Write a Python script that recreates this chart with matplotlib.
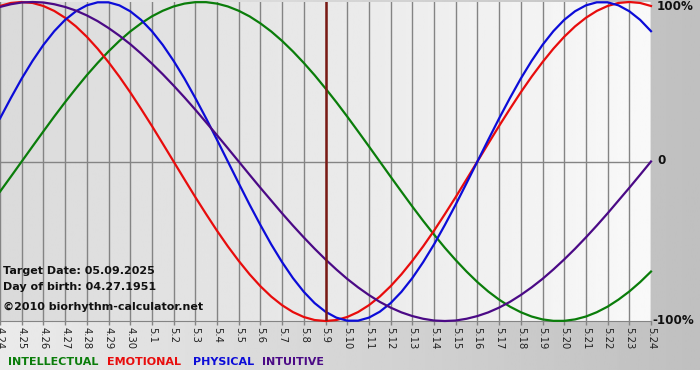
import numpy as np
import matplotlib
matplotlib.use('Agg')
import matplotlib.pyplot as plt

# days shown on the x axis (month.day)
days = ['4.24', '4.25', '4.26', '4.27', '4.28', '4.29', '4.30',
        '5.1', '5.2', '5.3', '5.4', '5.5', '5.6', '5.7', '5.8', '5.9',
        '5.10', '5.11', '5.12', '5.13', '5.14', '5.15', '5.16', '5.17',
        '5.18', '5.19', '5.20', '5.21', '5.22', '5.23', '5.24']
target_day = '5.9'

# curve values read every half day (start of 4.24 .. 5.24), -1 .. 1
intellectual = [-0.189, -0.095, 0.000, 0.095, 0.189, 0.282, 0.372, 0.458,
                0.541, 0.618, 0.690, 0.756, 0.815, 0.866, 0.910, 0.945,
                0.972, 0.990, 0.999, 0.999, 0.990, 0.972, 0.945, 0.910,
                0.866, 0.815, 0.756, 0.690, 0.618, 0.541, 0.458, 0.372,
                0.282, 0.189, 0.095, 0.000, -0.095, -0.189, -0.282, -0.372,
                -0.458, -0.541, -0.618, -0.690, -0.756, -0.815, -0.866,
                -0.910, -0.945, -0.972, -0.990, -0.999, -0.999, -0.990,
                -0.972, -0.945, -0.910, -0.866, -0.815, -0.756, -0.690]
emotional = [0.975, 0.994, 1.000, 0.994, 0.975, 0.944, 0.901, 0.847, 0.782,
             0.707, 0.623, 0.532, 0.434, 0.330, 0.223, 0.112, 0.000, -0.112,
             -0.223, -0.330, -0.434, -0.532, -0.623, -0.707, -0.782, -0.847,
             -0.901, -0.944, -0.975, -0.994, -1.000, -0.994, -0.975, -0.944,
             -0.901, -0.847, -0.782, -0.707, -0.623, -0.532, -0.434, -0.330,
             -0.223, -0.112, 0.000, 0.112, 0.223, 0.330, 0.434, 0.532, 0.623,
             0.707, 0.782, 0.847, 0.901, 0.944, 0.975, 0.994, 1.000, 0.994,
             0.975]
physical = [0.270, 0.398, 0.520, 0.631, 0.731, 0.817, 0.888, 0.942, 0.979,
            0.998, 0.998, 0.979, 0.942, 0.888, 0.817, 0.731, 0.631, 0.520,
            0.398, 0.270, 0.136, 0.000, -0.136, -0.270, -0.398, -0.520,
            -0.631, -0.731, -0.817, -0.888, -0.942, -0.979, -0.998, -0.998,
            -0.979, -0.942, -0.888, -0.817, -0.731, -0.631, -0.520, -0.398,
            -0.270, -0.136, 0.000, 0.136, 0.270, 0.398, 0.520, 0.631, 0.731,
            0.817, 0.888, 0.942, 0.979, 0.998, 0.998, 0.979, 0.942, 0.888,
            0.817]
intuitive = [0.969, 0.986, 0.997, 1.000, 0.997, 0.986, 0.969, 0.946, 0.916,
             0.880, 0.837, 0.789, 0.736, 0.677, 0.614, 0.547, 0.476, 0.402,
             0.325, 0.245, 0.165, 0.083, 0.000, -0.083, -0.165, -0.245,
             -0.325, -0.402, -0.476, -0.547, -0.614, -0.677, -0.736, -0.789,
             -0.837, -0.880, -0.916, -0.946, -0.969, -0.986, -0.997, -1.000,
             -0.997, -0.986, -0.969, -0.946, -0.916, -0.880, -0.837, -0.789,
             -0.736, -0.677, -0.614, -0.547, -0.476, -0.402, -0.325, -0.245,
             -0.165, -0.083, 0.000]

series = [('INTELLECTUAL', intellectual, '#0a7d0a'),
          ('EMOTIONAL', emotional, '#e80c0c'),
          ('PHYSICAL', physical, '#0c0cd8'),
          ('INTUITIVE', intuitive, '#4b0a86')]

W, H = 700, 380
fig = plt.figure(figsize=(7, 3.8), dpi=100)
fig.patch.set_facecolor('white')

# grey background behind everything
bg = fig.add_axes([0, 10 / H, 1, 1 - 10 / H])
bg.imshow(np.linspace(0.92, 0.75, 256)[None, :], cmap='gray', vmin=0, vmax=1,
          aspect='auto', extent=[0, 1, 0, 1])
bg.set_axis_off()

ax = fig.add_axes([0, (H - 321) / H, 651 / W, 319 / H])
x = np.arange(len(days))
ax.imshow(np.linspace(0.855, 0.975, 256)[None, :], cmap='gray', vmin=0, vmax=1,
          aspect='auto', extent=[0, len(days) - 1, -1, 1], zorder=0)
ax.set_xlim(0, len(days) - 1)
ax.set_ylim(-1, 1)

for xi in x:
    ax.axvline(xi, color='#848484', lw=1.0, zorder=1)
ax.axhline(0, color='#848484', lw=1.0, zorder=1)

for name, vals, col in series:
    xs = np.arange(len(vals)) / 2
    ax.plot(xs, vals, color=col, lw=1.6, zorder=3, clip_on=False)

ax.axvline(days.index(target_day), color='#7a1a14', lw=1.8, zorder=4)

for s in ['top', 'left', 'right']:
    ax.spines[s].set_visible(False)
ax.spines['bottom'].set_color('#848484')
ax.set_yticks([])
ax.set_xticks(x)
ax.set_xticklabels(days, rotation=-90, fontsize=7.2, color='#222222')
ax.tick_params(axis='x', length=3, width=1, color='#848484', pad=1)

def px(xp, yp):
    return xp / W, 1 - yp / H

tk = dict(fontsize=8, fontweight='bold', color='#111111', va='center')
fig.text(*px(3, 271), 'Target Date: 05.09.2025', **tk)
fig.text(*px(3, 287), 'Day of birth: 04.27.1951', **tk)
fig.text(*px(3, 307), '\u00a92010 biorhythm-calculator.net', **tk)

rk = dict(fontsize=8.6, fontweight='bold', color='#111111', va='center')
fig.text(*px(657, 7), '100%', **rk)
fig.text(*px(657, 161), '0', **rk)
fig.text(*px(652, 321), '-100%', **rk)

leg_x = [8, 107, 193, 262]
for (name, vals, col), lx in zip(series, leg_x):
    fig.text(*px(lx, 362), name, fontsize=8, fontweight='bold', color=col,
             va='center')

fig.savefig('out.png', dpi=100)
